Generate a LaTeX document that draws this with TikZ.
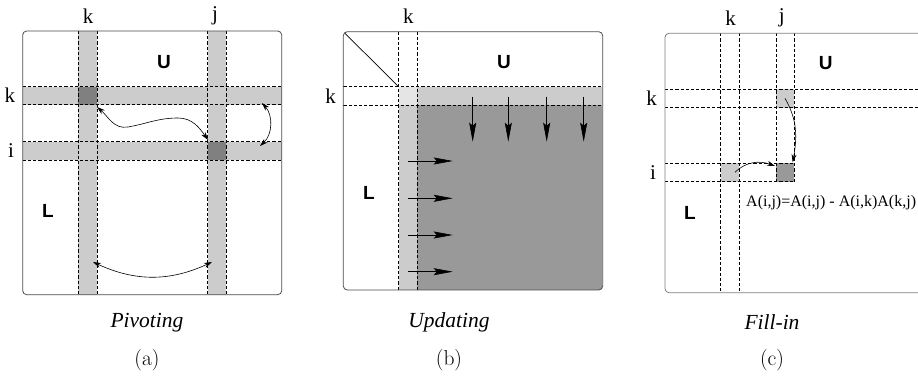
\documentclass[tikz,border=0pt]{standalone}
\usepackage{fontspec}
\newfontfamily\tms{Liberation Serif}
\newfontfamily\hel{Liberation Sans}
\usetikzlibrary{arrows.meta}
\definecolor{lg}{gray}{0.8}
\definecolor{mg}{gray}{0.6}
\definecolor{dg}{gray}{0.5}
\definecolor{vlg}{gray}{0.9}
\definecolor{frame}{gray}{0.3}
\tikzset{
  x=1pt,y=-1pt,
  mat/.style={draw=frame,line width=0.8pt,rounded corners=4pt},
  dsh/.style={dash pattern=on 3.2pt off 2pt,line width=0.7pt},
  lab/.style={font=\tms\fontsize{21}{21}\selectfont,inner sep=0pt},
  big/.style={font=\hel\bfseries\fontsize{19}{19}\selectfont,inner sep=0pt},
  captxt/.style={font=\tms\itshape\fontsize{21.5}{21.5}\selectfont,inner sep=0pt},
  subtxt/.style={font=\fontsize{21.5}{21.5}\selectfont,inner sep=0pt},
  dbl/.style={line width=0.6pt,{Stealth[length=8pt,width=5pt]}-{Stealth[length=8pt,width=5pt]}},
  sgl/.style={line width=0.6pt,-{Stealth[length=8pt,width=5pt]}},
  longarr/.style={line width=0.6pt,-{Stealth[length=19pt,width=7pt,inset=3pt]}},
}
\begin{document}
\begin{tikzpicture}
\clip (0,0) rectangle (918,382);
\fill[white] (0,0) rectangle (918,382);
% ================= (a) =================
\fill[white,rounded corners=4pt] (22.7,31) rectangle (281.7,294.7);
\fill[lg] (78.3,31) rectangle (97,294.7);
\fill[lg] (207.7,31) rectangle (226.3,294.7);
\fill[lg] (22.7,86.7) rectangle (281.7,104.7);
\fill[lg] (22.7,141.7) rectangle (281.7,160.3);
\fill[dg] (78.3,86.7) rectangle (97,104.7);
\fill[dg] (207.7,141.7) rectangle (226.3,160.3);
\draw[dsh] (78.3,31) -- (78.3,294.7) (97,31) -- (97,294.7);
\draw[dsh] (207.7,31) -- (207.7,294.7) (226.3,31) -- (226.3,294.7);
\draw[dsh] (22.7,86.7) -- (281.7,86.7) (22.7,104.7) -- (281.7,104.7);
\draw[dsh] (22.7,141.7) -- (281.7,141.7) (22.7,160.3) -- (281.7,160.3);
\draw[mat] (22.7,31) rectangle (281.7,294.7);
\node[lab] (ak) at (88,16) {k};
\node[lab] (aj) at (215,16) {j};
\node[lab] (ak2) at (10,95) {k};
\node[lab] (ai) at (11,151) {i};
\node[big] (aU) at (164,62) {U};
\node[big] (aL) at (48,211) {L};
\coordinate (a1) at (97,107);
\coordinate (a2) at (208,140);
\coordinate (a3) at (262,103);
\coordinate (a4) at (260,146);
\coordinate (a5) at (93,262);
\coordinate (a6) at (212,262);
\draw[dbl] (a1) to[out=-40,in=190] (128,127) to[out=10,in=180] (178,118) to[out=0,in=125] (a2);
\draw[dbl] (a3) to[bend left=45] (a4);
\draw[dbl] (a5) to[bend right=25] (a6);
\node[captxt] (pa) at (147,323) {Pivoting};
\node[subtxt] (sa) at (147,360) {(a)};
% ================= (b) =================
\begin{scope}
\clip[rounded corners=4pt] (343.3,31.7) rectangle (602.7,290);
\fill[white] (343.3,31.7) rectangle (602.7,290);
\fill[lg] (417.3,86.7) rectangle (602.7,105.3);
\fill[vlg] (398.7,86.7) rectangle (417.3,105.3);
\fill[lg] (398.7,105.3) rectangle (417.3,290);
\fill[mg] (417.3,105.3) rectangle (602.7,290);
\end{scope}
\draw[dsh] (398.7,31.7) -- (398.7,290) (417.3,31.7) -- (417.3,290);
\draw[dsh] (343.3,86.7) -- (602.7,86.7) (343.3,105.3) -- (602.7,105.3);
\draw[line width=0.7pt] (345,33.4) -- (398.7,86.7);
\draw[mat] (343.3,31.7) rectangle (602.7,290);
\node[lab] (bk) at (408.3,16) {k};
\node[lab] (bk2) at (330.7,96.7) {k};
\node[big] (bU) at (504,62) {U};
\node[big] (bL) at (369,193.3) {L};
\foreach \xx/\nm in {472.7/d1,508.3/d2,546.7/d3,583.7/d4}{
  \coordinate (\nm s) at (\xx,96.7);
  \coordinate (\nm e) at (\xx,141.7);
  \draw[longarr] (\nm s) -- (\nm e);
}
\foreach \yy/\nm in {161/r1,198.3/r2,235/r3,271.7/r4}{
  \coordinate (\nm s) at (408.3,\yy);
  \coordinate (\nm e) at (452.7,\yy);
  \draw[longarr] (\nm s) -- (\nm e);
}
\node[captxt] (pb) at (449,322) {Updating};
\node[subtxt] (sb) at (449,360) {(b)};
% ================= (c) =================
\fill[white,rounded corners=4pt] (665,33.3) rectangle (940,292.7);
\fill[lg] (776,89.3) rectangle (794.3,107.7);
\fill[lg] (720.7,163.3) rectangle (739,181.7);
\fill[mg] (776,163.3) rectangle (794.3,181.7);
\draw[dsh] (720.7,33.3) -- (720.7,292.7) (739,33.3) -- (739,292.7);
\draw[dsh] (776,33.3) -- (776,181.7) (794.3,33.3) -- (794.3,181.7);
\draw[dsh] (665,89.3) -- (918,89.3) (665,107.7) -- (918,107.7);
\draw[dsh] (665,163.3) -- (794.3,163.3) (665,181.7) -- (794.3,181.7);
\draw[mat,draw=gray] (665,33.3) rectangle (940,292.7);
\node[lab] (ck) at (730.7,18) {k};
\node[lab] (cj) at (781.7,18) {j};
\node[lab] (ck2) at (651.7,98.3) {k};
\node[lab] (ci) at (653,172.3) {i};
\node[big] (cU) at (825.7,63.3) {U};
\node[big] (cL) at (690,213.3) {L};
\node[font=\tms\fontsize{16}{16}\selectfont,inner sep=0pt,anchor=west] (eq) at (746,202.7) {A(i,j)=A(i,j) - A(i,k)A(k,j)};
\coordinate (c1) at (785,98.3);
\coordinate (c2) at (792.7,162.3);
\coordinate (c3) at (735,172.3);
\coordinate (c4) at (775,166);
\draw[sgl] (c1) to[out=-60,in=80] (c2);
\draw[sgl] (c3) to[out=45,in=160] (c4);
\node[captxt] (pc) at (772,322) {Fill-in};
\node[subtxt] (sc) at (772,360) {(c)};
\end{tikzpicture}
\end{document}
